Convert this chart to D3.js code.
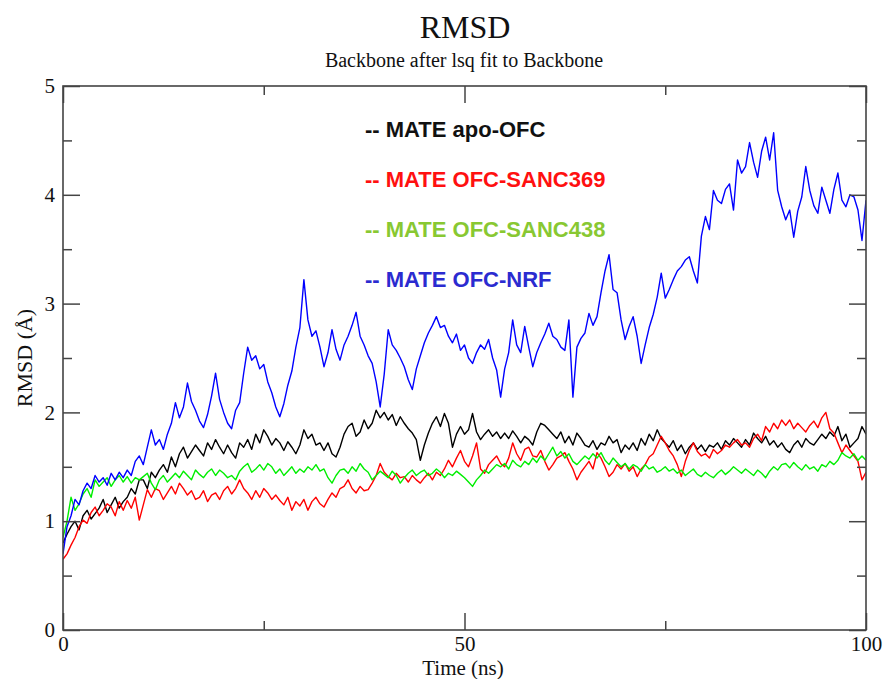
<!DOCTYPE html>
<html>
<head>
<meta charset="utf-8">
<script src="https://cdn.jsdelivr.net/npm/d3@7"></script>
<style>
  body { margin: 0; background: #fff; }
  svg { display: block; }
  .serif { font-family: "Liberation Serif", "Times New Roman", serif; fill: #111; }
  .axis text { font-family: "Liberation Serif", "Times New Roman", serif; font-size: 21px; fill: #111; }
  .axis line { stroke: #444; stroke-width: 1.5px; }
  .legend text { font-family: "Liberation Sans", Arial, sans-serif; font-weight: bold; font-size: 22px; }
</style>
</head>
<body>
<svg id="chart" width="885" height="679"></svg>
<script>
const apoOFC = [
  0.80,0.88,0.95,1.00,0.92,1.05,1.10,1.02,1.07,1.12,
  1.20,1.08,1.15,1.22,1.12,1.18,1.22,1.30,1.25,1.38,
  1.38,1.30,1.45,1.40,1.47,1.52,1.45,1.59,1.50,1.62,
  1.68,1.58,1.64,1.70,1.65,1.60,1.72,1.66,1.75,1.68,
  1.62,1.70,1.63,1.58,1.72,1.68,1.75,1.66,1.80,1.72,
  1.84,1.78,1.70,1.76,1.72,1.65,1.73,1.68,1.62,1.70,
  1.84,1.76,1.80,1.70,1.72,1.65,1.72,1.62,1.59,1.68,
  1.80,1.87,1.90,1.78,1.82,1.93,1.85,1.90,2.02,1.95,
  2.00,1.93,1.98,1.88,1.96,1.90,1.85,1.81,1.75,1.56,
  1.70,1.81,1.90,1.96,1.87,1.99,1.90,1.68,1.80,1.87,
  1.80,1.84,1.99,1.82,1.75,1.80,1.84,1.78,1.82,1.76,
  1.81,1.76,1.83,1.78,1.72,1.78,1.75,1.70,1.82,1.90,
  1.88,1.84,1.80,1.76,1.82,1.72,1.78,1.70,1.81,1.76,
  1.70,1.68,1.74,1.66,1.72,1.70,1.78,1.72,1.75,1.63,
  1.70,1.66,1.72,1.65,1.76,1.70,1.80,1.74,1.84,1.76,
  1.72,1.68,1.74,1.65,1.70,1.62,1.68,1.72,1.66,1.70,
  1.64,1.70,1.68,1.72,1.66,1.74,1.70,1.76,1.72,1.68,
  1.75,1.70,1.81,1.76,1.72,1.78,1.70,1.74,1.68,1.72,
  1.66,1.63,1.70,1.74,1.68,1.76,1.72,1.70,1.75,1.80,
  1.76,1.82,1.78,1.87,1.74,1.80,1.68,1.72,1.76,1.87,
  1.80
];
const sanc369 = [
  0.65,0.70,0.78,0.85,0.95,1.01,0.98,1.08,1.13,1.05,
  1.10,1.16,1.13,1.05,1.18,1.10,1.19,1.12,1.22,1.01,
  1.15,1.29,1.22,1.30,1.28,1.20,1.26,1.32,1.25,1.35,
  1.30,1.24,1.28,1.20,1.22,1.28,1.18,1.24,1.26,1.20,
  1.28,1.32,1.25,1.30,1.38,1.30,1.26,1.20,1.28,1.22,
  1.30,1.26,1.20,1.24,1.19,1.15,1.22,1.10,1.18,1.14,
  1.20,1.10,1.18,1.22,1.16,1.13,1.20,1.26,1.22,1.30,
  1.32,1.38,1.30,1.26,1.32,1.28,1.29,1.35,1.42,1.53,
  1.45,1.41,1.38,1.44,1.40,1.41,1.36,1.42,1.38,1.35,
  1.40,1.44,1.38,1.45,1.42,1.48,1.56,1.50,1.58,1.65,
  1.55,1.50,1.60,1.72,1.48,1.44,1.52,1.56,1.60,1.53,
  1.50,1.58,1.72,1.62,1.56,1.66,1.68,1.60,1.59,1.65,
  1.55,1.47,1.52,1.58,1.60,1.63,1.55,1.48,1.38,1.45,
  1.50,1.55,1.48,1.63,1.58,1.50,1.41,1.45,1.52,1.48,
  1.53,1.46,1.50,1.41,1.48,1.52,1.59,1.62,1.70,1.78,
  1.72,1.65,1.60,1.52,1.41,1.55,1.65,1.72,1.64,1.60,
  1.62,1.58,1.66,1.62,1.65,1.70,1.68,1.72,1.75,1.70,
  1.72,1.68,1.76,1.80,1.74,1.87,1.82,1.90,1.85,1.93,
  1.88,1.93,1.85,1.90,1.86,1.82,1.88,1.92,1.86,1.95,
  2.00,1.85,1.81,1.72,1.63,1.70,1.65,1.60,1.55,1.38,
  1.45
];
const sanc438 = [
  0.85,1.00,1.22,1.10,1.16,1.25,1.30,1.22,1.38,1.32,
  1.36,1.40,1.32,1.38,1.42,1.36,1.41,1.35,1.40,1.38,
  1.41,1.44,1.35,1.29,1.38,1.42,1.36,1.40,1.44,1.40,
  1.46,1.42,1.38,1.47,1.43,1.40,1.45,1.48,1.42,1.47,
  1.44,1.40,1.42,1.38,1.46,1.50,1.53,1.45,1.48,1.52,
  1.47,1.53,1.50,1.44,1.48,1.42,1.46,1.50,1.44,1.48,
  1.45,1.50,1.47,1.52,1.46,1.48,1.40,1.35,1.42,1.47,
  1.48,1.44,1.50,1.46,1.53,1.48,1.45,1.38,1.42,1.46,
  1.43,1.40,1.46,1.42,1.35,1.40,1.44,1.47,1.42,1.45,
  1.47,1.42,1.44,1.48,1.45,1.40,1.44,1.42,1.46,1.43,
  1.40,1.36,1.32,1.38,1.42,1.47,1.44,1.48,1.52,1.50,
  1.53,1.48,1.56,1.52,1.50,1.55,1.52,1.58,1.54,1.60,
  1.56,1.62,1.68,1.60,1.64,1.58,1.62,1.55,1.52,1.56,
  1.60,1.57,1.62,1.58,1.63,1.56,1.52,1.58,1.54,1.50,
  1.53,1.48,1.52,1.50,1.46,1.52,1.48,1.50,1.45,1.47,
  1.50,1.46,1.48,1.44,1.47,1.42,1.45,1.48,1.43,1.41,
  1.45,1.42,1.40,1.44,1.47,1.43,1.46,1.50,1.47,1.44,
  1.48,1.45,1.42,1.47,1.44,1.40,1.46,1.50,1.47,1.52,
  1.53,1.49,1.54,1.50,1.47,1.52,1.48,1.50,1.46,1.52,
  1.50,1.55,1.52,1.56,1.63,1.60,1.58,1.62,1.56,1.60,
  1.56
];
const nrf = [
  0.70,0.95,1.05,1.20,1.15,1.28,1.35,1.30,1.42,1.36,
  1.40,1.33,1.44,1.38,1.45,1.40,1.47,1.42,1.55,1.60,
  1.52,1.68,1.84,1.70,1.75,1.66,1.80,1.90,2.09,1.95,
  2.05,2.27,2.10,2.02,1.92,1.86,1.98,2.15,2.36,2.12,
  2.00,1.90,1.85,2.02,2.09,2.36,2.60,2.48,2.52,2.40,
  2.44,2.28,2.18,2.05,1.96,2.08,2.25,2.38,2.60,2.78,
  3.22,2.85,2.70,2.75,2.60,2.42,2.55,2.76,2.58,2.48,
  2.62,2.70,2.80,2.92,2.70,2.62,2.52,2.45,2.28,2.05,
  2.35,2.76,2.62,2.57,2.50,2.42,2.30,2.21,2.40,2.52,
  2.64,2.73,2.80,2.88,2.78,2.80,2.70,2.64,2.72,2.57,
  2.62,2.50,2.45,2.55,2.62,2.58,2.67,2.50,2.39,2.14,
  2.40,2.55,2.85,2.62,2.55,2.79,2.60,2.42,2.55,2.64,
  2.72,2.82,2.70,2.67,2.60,2.57,2.85,2.14,2.60,2.68,
  2.73,2.91,2.80,2.88,3.10,3.30,3.45,3.13,3.10,2.85,
  2.67,2.79,2.88,2.70,2.45,2.62,2.78,2.90,3.06,3.28,
  3.05,3.13,3.22,3.30,3.34,3.40,3.43,3.30,3.19,3.62,
  3.80,3.68,4.04,3.95,3.92,4.05,4.10,3.86,4.32,4.20,
  4.26,4.48,4.30,4.16,4.40,4.53,4.32,4.57,4.04,3.89,
  3.77,3.86,3.61,3.85,3.98,4.26,4.04,3.90,3.83,4.07,
  3.95,3.83,4.05,4.20,3.95,3.89,4.00,3.98,3.86,3.58,
  3.95
];

const seriesNames = ["-- MATE apo-OFC", "-- MATE OFC-SANC369", "-- MATE OFC-SANC438", "-- MATE OFC-NRF"];
const lineColors = ["#000000", "#ff0000", "#00ee00", "#0000ff"];
const labelColors = ["#111111", "#ff1010", "#88c832", "#2b2bd0"];
const xMajorTicks = [0, 50, 100];
const xMinorTicks = [25, 75];
const yMajorTicks = [0, 1, 2, 3, 4, 5];
const yMinorTicks = [0.5, 1.5, 2.5, 3.5, 4.5];

const svg = d3.select('#chart');
const plotLeft = 63, plotRight = 866, plotTop = 86, plotBottom = 630;

const x = d3.scaleLinear().domain([0, 100]).range([plotLeft, plotRight]);
const y = d3.scaleLinear().domain([0, 5]).range([plotBottom, plotTop]);

// titles
svg.append('text').attr('class', 'serif')
    .attr('x', 465).attr('y', 38).attr('text-anchor', 'middle')
    .style('font-size', '32px').text('RMSD');
svg.append('text').attr('class', 'serif')
    .attr('x', 464).attr('y', 67).attr('text-anchor', 'middle')
    .style('font-size', '20px').text('Backbone after lsq fit to Backbone');

// data lines
const allSeries = [apoOFC, sanc369, sanc438, nrf];
svg.append('clipPath').attr('id', 'plotclip')
    .append('rect').attr('x', plotLeft).attr('y', plotTop)
    .attr('width', plotRight - plotLeft).attr('height', plotBottom - plotTop);

const lineGroup = svg.append('g').attr('clip-path', 'url(#plotclip)');
allSeries.forEach((vals, i) => {
    const step = 100 / (vals.length - 1);
    const line = d3.line()
        .x((d, j) => x(j * step))
        .y(d => y(d));
    lineGroup.append('path')
        .datum(vals)
        .attr('d', line)
        .attr('fill', 'none')
        .attr('stroke', lineColors[i])
        .attr('stroke-width', 1.4)
        .attr('stroke-linejoin', 'round');
});

// frame and ticks (inward, on all four sides)
function addAxis(axis, tx, ty) {
    const g = svg.append('g').attr('class', 'axis')
        .attr('transform', `translate(${tx},${ty})`).call(axis);
    g.select('.domain').remove();
    return g;
}
addAxis(d3.axisBottom(x).tickValues(xMajorTicks).tickSize(-17).tickPadding(6).tickFormat(d3.format('d')), 0, plotBottom);
addAxis(d3.axisBottom(x).tickValues(xMinorTicks).tickSize(-9).tickFormat(''), 0, plotBottom);
addAxis(d3.axisTop(x).tickValues(xMajorTicks).tickSize(-17).tickFormat(''), 0, plotTop);
addAxis(d3.axisTop(x).tickValues(xMinorTicks).tickSize(-9).tickFormat(''), 0, plotTop);
addAxis(d3.axisLeft(y).tickValues(yMajorTicks).tickSize(-17).tickPadding(8).tickFormat(d3.format('d')), plotLeft, 0);
addAxis(d3.axisLeft(y).tickValues(yMinorTicks).tickSize(-9).tickFormat(''), plotLeft, 0);
addAxis(d3.axisRight(y).tickValues(yMajorTicks).tickSize(-17).tickFormat(''), plotRight, 0);
addAxis(d3.axisRight(y).tickValues(yMinorTicks).tickSize(-9).tickFormat(''), plotRight, 0);

svg.append('rect')
    .attr('x', plotLeft).attr('y', plotTop)
    .attr('width', plotRight - plotLeft).attr('height', plotBottom - plotTop)
    .attr('fill', 'none').attr('stroke', '#444').attr('stroke-width', 1.6);

// axis titles
svg.append('text').attr('class', 'serif')
    .attr('x', 463).attr('y', 675).attr('text-anchor', 'middle')
    .style('font-size', '21px').text('Time (ns)');
svg.append('text').attr('class', 'serif')
    .attr('transform', 'translate(32,358) rotate(-90)')
    .attr('text-anchor', 'middle')
    .style('font-size', '22px').text('RMSD (Å)');

// legend
const legend = svg.append('g').attr('class', 'legend');
seriesNames.forEach((name, i) => {
    legend.append('text')
        .attr('x', 365).attr('y', 137 + i * 50)
        .attr('fill', labelColors[i])
        .text(name);
});
</script>
</body>
</html>
